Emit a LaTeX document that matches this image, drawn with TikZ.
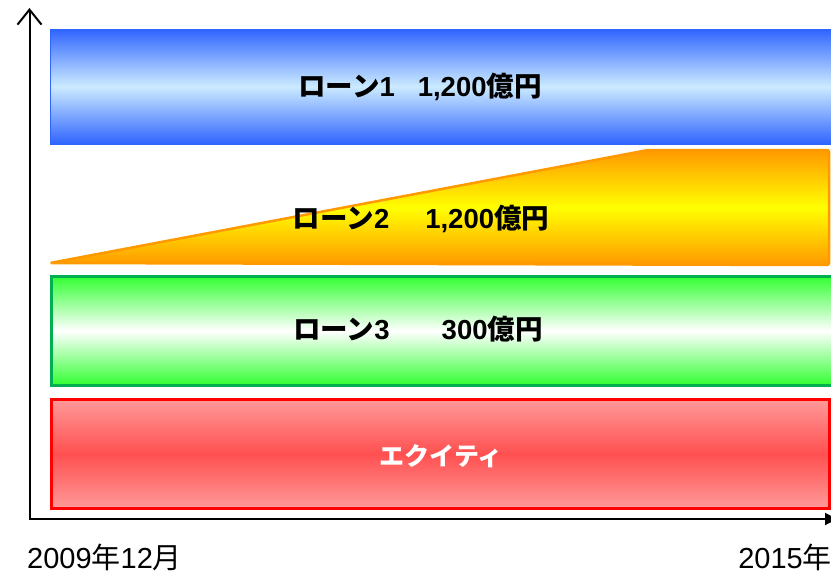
\documentclass[tikz,border=0pt]{standalone}
\usepackage{fontspec}
\setmainfont{Liberation Sans}
\newfontfamily\jp{Noto Sans CJK JP}
\usetikzlibrary{arrows.meta}
\newcommand{\J}[1]{{\jp #1}}
\definecolor{bandblue}{HTML}{2F64FF}
\definecolor{lightblue}{HTML}{CCEBFF}
\definecolor{bandorange}{HTML}{FF9900}
\definecolor{bandyellow}{HTML}{FFFF00}
\definecolor{bandgreen}{HTML}{00B050}
\definecolor{lightgreen}{HTML}{33FF33}
\definecolor{lightred}{HTML}{FF9999}
\definecolor{midred}{HTML}{FF5050}
\begin{document}
\begin{tikzpicture}[x=1pt,y=-1pt,
  lbl/.style={font=\bfseries\fontsize{27.5}{30}\selectfont, text=black, inner sep=0pt},
  axislbl/.style={font=\fontsize{29}{32}\selectfont, inner sep=0pt},
  axisline/.style={line width=2pt, black}]
\useasboundingbox (0,0) rectangle (831,576);
% blue band
\shade[top color=bandblue, bottom color=bandblue, middle color=lightblue, draw=bandblue, line width=0.8pt]
  (50,29) rectangle (834,144);
% orange band
\shade[top color=bandorange, bottom color=bandorange, middle color=bandyellow, draw=bandorange, line width=2.5pt, line join=round, rounded corners=1.5pt]
  (50,263) -- (648,150) -- (829,150) -- (829,265) -- cycle;
% green band
\shade[top color=lightgreen, bottom color=lightgreen, middle color=white, draw=bandgreen, line width=3pt]
  (51.5,276.5) rectangle (834,385);
% red band
\shade[top color=lightred, bottom color=lightred, middle color=midred, draw=red, line width=3pt]
  (51.5,399.5) rectangle (829.5,508.5);
% labels
\node[lbl] (l1) at (420,87) {\J{ローン}1\hspace{23pt}1,200\J{億円}};
\node[lbl] (l2) at (421,219) {\J{ローン}2\hspace{36pt}1,200\J{億円}};
\node[lbl] (l3) at (418,329) {\J{ローン}3\hspace{52pt}300\J{億円}};
\node[lbl, text=white, font=\bfseries\fontsize{25}{28}\selectfont] (l4) at (441,456) {\J{エクイティ}};
% axes
\coordinate (O) at (29.5,519);
\coordinate (ytop) at (29.5,8);
\coordinate (xend) at (837,519);
\draw[axisline, -{Straight Barb[length=15pt,width=24pt,line width=2pt]}] (29.5,520) -- (ytop);
\draw[axisline, -{Triangle[length=12pt,width=12pt]}] (29,519) -- (xend);
\node[axislbl, anchor=west] (d1) at (27,557) {2009\J{年}12\J{月}};
\node[axislbl, anchor=east] (d2) at (832,557) {2015\J{年}};
\end{tikzpicture}
\end{document}
